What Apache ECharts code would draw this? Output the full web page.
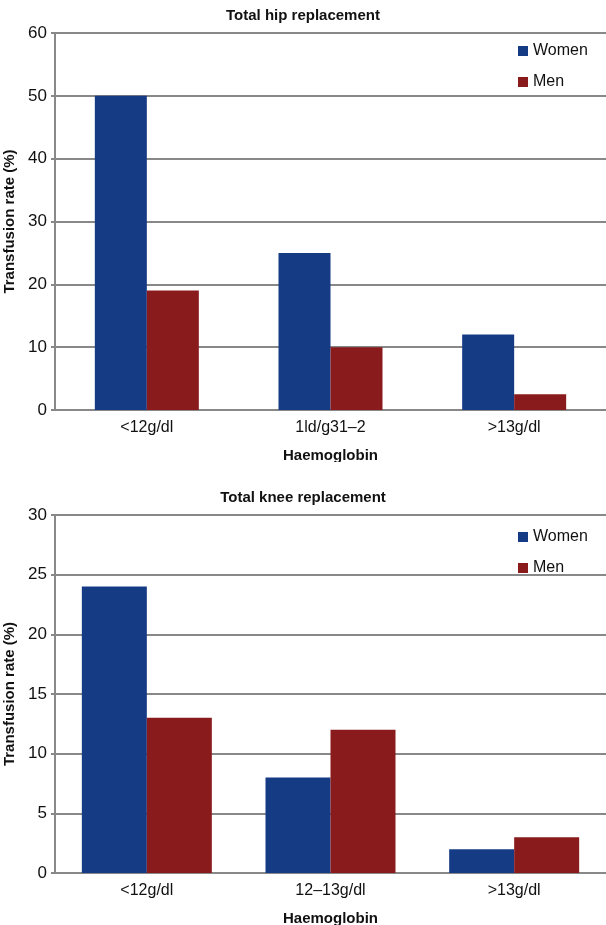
<!DOCTYPE html>
<html lang="en">

<head>
    <meta charset="UTF-8">
    <script src="https://cdn.jsdelivr.net/npm/echarts@6/dist/echarts.min.js"></script>
    <title>Transfusion rate</title>
    <style>
        body { margin: 0; background: #fff; }
    </style>
</head>

<body>
    <div id="hip" style="width: 606px;height: 462px;"></div>
    <div id="knee" style="width: 606px;height: 463px;"></div>

    <script>
        // data
        var hipCategories = ['<12g/dl', '1ld/g31–2', '>13g/dl'];
        var hipWomen = [50, 25, 12];
        var hipMen = [19, 10, 2.5];

        var kneeCategories = ['<12g/dl', '12–13g/dl', '>13g/dl'];
        var kneeWomen = [24, 8, 2];
        var kneeMen = [13, 12, 3];

        var FONT = '"Liberation Sans Narrow", "Liberation Sans", Arial, sans-serif';
        var BLUE = '#153b85';
        var RED = '#8a1b1d';

        function makeOption(title, cats, women, men, yMax, yStep, titleTop, gridTop, barW, legendTop) {
            return {
                animation: false,
                textStyle: { fontFamily: FONT },
                title: {
                    text: title,
                    left: 'center',
                    top: titleTop,
                    textStyle: { fontFamily: FONT, fontSize: 15, fontWeight: 'bold', color: '#111' }
                },
                legend: {
                    orient: 'vertical',
                    left: 513,
                    top: legendTop,
                    itemWidth: 10,
                    itemHeight: 10,
                    itemGap: 15,
                    icon: 'rect',
                    textStyle: { fontFamily: FONT, fontSize: 16, color: '#111' },
                    data: ['Women', 'Men']
                },
                grid: { left: 55, right: 0, top: gridTop, bottom: 52, outerBoundsMode: 'none', containLabel: false },
                xAxis: {
                    type: 'category',
                    data: cats,
                    name: 'Haemoglobin',
                    nameLocation: 'middle',
                    nameGap: 38,
                    nameTextStyle: { fontFamily: FONT, fontSize: 15, fontWeight: 'bold', color: '#111' },
                    axisLine: { lineStyle: { color: '#888', width: 2 } },
                    axisTick: { show: false },
                    axisLabel: { fontFamily: FONT, fontSize: 16, color: '#111', margin: 10 }
                },
                yAxis: {
                    type: 'value',
                    min: 0,
                    max: yMax,
                    interval: yStep,
                    name: 'Transfusion rate (%)',
                    nameLocation: 'middle',
                    nameGap: 38,
                    nameTextStyle: { fontFamily: FONT, fontSize: 15, fontWeight: 'bold', color: '#111' },
                    axisLine: { show: true, lineStyle: { color: '#888', width: 2 } },
                    axisTick: { show: true, length: 4, lineStyle: { color: '#888', width: 2 } },
                    axisLabel: { fontFamily: FONT, fontSize: 17, color: '#111', margin: 8 },
                    splitLine: { lineStyle: { color: '#888', width: 2 } }
                },
                series: [
                    { name: 'Women', type: 'bar', data: women, barWidth: barW, barGap: '0%', itemStyle: { color: BLUE } },
                    { name: 'Men', type: 'bar', data: men, barWidth: barW, barGap: '0%', itemStyle: { color: RED } }
                ]
            };
        }

        var hipChart = echarts.init(document.getElementById('hip'));
        hipChart.setOption(makeOption('Total hip replacement', hipCategories, hipWomen, hipMen, 60, 10, 3, 33, 52, 38));

        var kneeChart = echarts.init(document.getElementById('knee'));
        kneeChart.setOption(makeOption('Total knee replacement', kneeCategories, kneeWomen, kneeMen, 30, 5, 23, 53, 65, 62));
    </script>
</body>

</html>
